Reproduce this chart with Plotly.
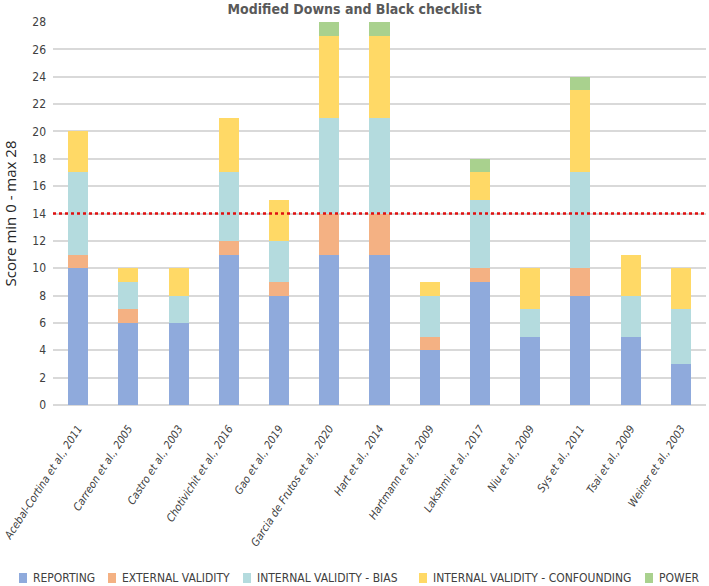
import plotly.graph_objects as go

studies = ["Acebal-Cortina et al., 2011", "Carreon et al., 2005", "Castro et al., 2003",
           "Chotivichit et al., 2016", "Gao et al., 2019", "Garcia de Frutos et al., 2020",
           "Hart et al., 2014", "Hartmann et al., 2009", "Lakshmi et al., 2017",
           "Niu et al., 2009", "Sys et al., 2011", "Tsai et al., 2009", "Weiner et al., 2003"]
reporting = [10, 6, 6, 11, 8, 11, 11, 4, 9, 5, 8, 5, 3]
external_validity = [1, 1, 0, 1, 1, 3, 3, 1, 1, 0, 2, 0, 0]
internal_bias = [6, 2, 2, 5, 3, 7, 7, 3, 5, 2, 7, 3, 4]
internal_confounding = [3, 1, 2, 4, 3, 6, 6, 1, 2, 3, 6, 3, 3]
power = [0, 0, 0, 0, 0, 1, 1, 0, 1, 0, 1, 0, 0]
threshold = 14
y_ticks = list(range(0, 29, 2))

series_names = ["REPORTING", "EXTERNAL VALIDITY", "INTERNAL VALIDITY - BIAS",
                "INTERNAL VALIDITY - CONFOUNDING", "POWER"]
series_values = [reporting, external_validity, internal_bias, internal_confounding, power]
series_colors = ["#8faadc", "#f4b183", "#b4dbde", "#ffd966", "#a9d18e"]

font_family = "DejaVu Sans Condensed, Liberation Sans Narrow, Roboto, Arial"

W, H = 709, 586
ML, MR, MT, MB = 53, 3, 22, 181
PW = W - ML - MR
PH = H - MT - MB

fig = go.Figure()
for name, vals, color in zip(series_names, series_values, series_colors):
    fig.add_trace(go.Bar(x=studies, y=vals, name=name, marker_color=color,
                         marker_line_width=0, showlegend=False))

fig.add_shape(type="line", xref="paper", yref="y", x0=0, x1=1, y0=threshold, y1=threshold,
              line=dict(color="#e01010", width=2.5, dash="dot"), layer="above")

# custom single-row legend below the axis labels (layout positions in pixels)
legend_marker_px = [19, 108, 243, 419, 645]
legend_y_px = 578
def px_to_paper_x(px):
    return (px - ML) / PW
def px_to_paper_y(py):
    return (H - MB - py) / PH
for name, color, mx in zip(series_names, series_colors, legend_marker_px):
    fig.add_shape(type="rect", xref="paper", yref="paper",
                  x0=px_to_paper_x(mx), x1=px_to_paper_x(mx + 8),
                  y0=px_to_paper_y(legend_y_px + 5), y1=px_to_paper_y(legend_y_px - 5),
                  fillcolor=color, line_width=0)
    fig.add_annotation(text=name, xref="paper", yref="paper",
                       x=px_to_paper_x(mx + 12), y=px_to_paper_y(legend_y_px),
                       xanchor="left", yanchor="middle", showarrow=False,
                       font=dict(family=font_family, size=12, color="#404040"))

fig.update_layout(
    barmode="stack",
    bargap=0.6,
    width=W, height=H,
    paper_bgcolor="white", plot_bgcolor="white",
    margin=dict(l=ML, r=MR, t=MT, b=MB),
    font=dict(family=font_family, color="#595959", size=12),
    title=dict(text="<b>Modified Downs and Black checklist</b>", x=0.5, xanchor="center",
               y=0.993, yanchor="top",
               font=dict(family=font_family, size=14, color="#595959")),
    showlegend=False,
    xaxis=dict(tickangle=-57, tickfont=dict(size=11, color="#404040", style="italic"),
               showgrid=False, showline=False, ticks="", automargin=False,
               ticklabelstandoff=14),
    yaxis=dict(range=[0, 28], tickvals=y_ticks, showgrid=True, gridcolor="#d9d9d9",
               gridwidth=1.5, zeroline=True, zerolinecolor="#d9d9d9", zerolinewidth=1.5,
               tickfont=dict(size=12, color="#404040"), ticklabelstandoff=6,
               automargin=False,
               title=dict(text="Score min 0 - max 28", standoff=16,
                          font=dict(size=15, color="#262626", family="Open Sans"))),
)

fig.write_html("out.html", config={"displayModeBar": False},
               post_script="document.body.style.margin='0';")
